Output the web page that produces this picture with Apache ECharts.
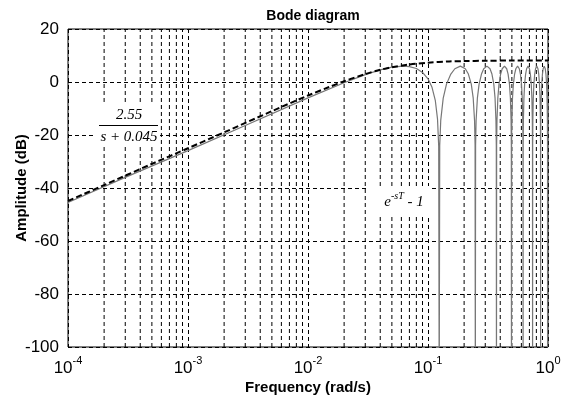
<!DOCTYPE html>
<html>
<head>
<meta charset="utf-8">
<script src="https://cdn.jsdelivr.net/npm/echarts@6/dist/echarts.min.js"></script>
<style>
  html, body { margin: 0; padding: 0; background: #fff; }
  #chart { width: 570px; height: 400px; }
</style>
</head>
<body>
<div id="chart"></div>
<script>
// 2.55/(s+0.045) curve, [rad/s, dB]
var approxCurve = [
  [1e-4, -44.9], [2e-4, -38.9], [5e-4, -30.9], [1e-3, -25.0], [2e-3, -19.0],
  [5e-3, -11.0], [1e-2, -5.1], [0.015, -1.9], [0.02, 0.3], [0.03, 3.0],
  [0.04, 4.6], [0.05, 5.55], [0.07, 6.6], [0.1, 7.3], [0.15, 7.75],
  [0.2, 7.9], [0.3, 8.0], [0.5, 8.1], [1, 8.1]
]

// e^-sT - 1 curve with its notches (notch bottoms are off the chart)
var delayCurve = [
  [1e-4, -45.5], [3e-4, -36.0], [1e-3, -25.9], [3e-3, -16.4], [1e-2, -6.0],
  [0.02, -0.3], [0.03, 2.8], [0.04, 4.6], [0.05, 5.6], [0.062, 6.0],
  [0.07, 5.8], [0.08, 5.1], [0.09, 3.6], [0.1, 1.2], [0.108, -2.0],
  [0.115, -6.9], [0.12, -13.9], [0.1228, -24.3], [0.124, -120],
  [0.1252, -24], [0.1277, -14.5], [0.1339, -6.1], [0.1426, -0.8], [0.155, 3.0], [0.1674, 5.0],
  [0.186, 6.0], [0.2046, 5.0], [0.217, 3.0], [0.2294, -0.8], [0.2381, -6.1], [0.2443, -14.5], [0.2468, -24], [0.248, -120],
  [0.2492, -24], [0.2517, -14.5], [0.2579, -6.1], [0.2666, -0.8], [0.279, 3.0], [0.2914, 5.0],
  [0.31, 6.0], [0.3286, 5.0], [0.341, 3.0], [0.3534, -0.8], [0.3621, -6.1], [0.3683, -14.5], [0.3708, -24], [0.372, -120],
  [0.3732, -24], [0.3757, -14.5], [0.3819, -6.1], [0.3906, -0.8], [0.403, 3.0], [0.4154, 5.0],
  [0.434, 6.0], [0.4526, 5.0], [0.465, 3.0], [0.4774, -0.8], [0.4861, -6.1], [0.4923, -14.5], [0.4948, -24], [0.496, -120],
  [0.4972, -24], [0.4997, -14.5], [0.5059, -6.1], [0.5146, -0.8], [0.527, 3.0], [0.5394, 5.0],
  [0.558, 6.0], [0.5766, 5.0], [0.589, 3.0], [0.6014, -0.8], [0.6101, -6.1], [0.6163, -14.5], [0.6188, -24], [0.62, -120],
  [0.6212, -24], [0.6237, -14.5], [0.6299, -6.1], [0.6386, -0.8], [0.651, 3.0], [0.6634, 5.0],
  [0.682, 6.0], [0.7006, 5.0], [0.713, 3.0], [0.7254, -0.8], [0.7341, -6.1], [0.7403, -14.5], [0.7428, -24], [0.744, -120],
  [0.7452, -24], [0.7477, -14.5], [0.7539, -6.1], [0.7626, -0.8], [0.775, 3.0], [0.7874, 5.0],
  [0.806, 6.0], [0.8246, 5.0], [0.837, 3.0], [0.8494, -0.8], [0.8581, -6.1], [0.8643, -14.5], [0.8668, -24], [0.868, -120],
  [0.8692, -24], [0.8717, -14.5], [0.8779, -6.1], [0.8866, -0.8], [0.899, 3.0], [0.9114, 5.0],
  [0.93, 6.0], [0.9486, 5.0], [0.961, 3.0], [0.9734, -0.8], [0.9821, -6.1], [0.9883, -14.5], [0.9908, -24], [0.992, -120],
  [0.9932, -24], [0.9957, -14.5], [1, -7.9]
]

// minor vertical grid lines (2..9 in each decade)
var minorTicks = [
  2e-4, 3e-4, 4e-4, 5e-4, 6e-4, 7e-4, 8e-4, 9e-4,
  2e-3, 3e-3, 4e-3, 5e-3, 6e-3, 7e-3, 8e-3, 9e-3,
  0.02, 0.03, 0.04, 0.05, 0.06, 0.07, 0.08, 0.09,
  0.2, 0.3, 0.4, 0.5, 0.6, 0.7, 0.8, 0.9
]

var yMin = -100
var yMax = 20
var yStep = 20

var font = 'Liberation Sans, Arial, sans-serif'
var serif = 'Liberation Serif, Times New Roman, serif'
var gridDash = { color: '#000', width: 1, type: [4, 3] }

// 每条次网格线用一条两点的折线画
var minorSeries = minorTicks.map(function (t) {
  return {
    type: 'line',
    data: [[t, yMin], [t, yMax]],
    showSymbol: false,
    silent: true,
    z: 1,
    lineStyle: gridDash
  }
})

var myChart = echarts.init(document.getElementById('chart'))
myChart.setOption({
  animation: false,
  title: {
    text: 'Bode diagram',
    left: 308,
    textAlign: 'center',
    top: 4,
    textStyle: { fontFamily: font, fontSize: 14, fontWeight: 'bold', color: '#000' }
  },
  grid: {
    left: 68, right: 22, top: 29, bottom: 53,
    outerBoundsMode: 'none',
    containLabel: false,
    show: true, borderColor: '#000', borderWidth: 1
  },
  xAxis: {
    type: 'log',
    logBase: 10,
    min: 1e-4,
    max: 1,
    name: 'Frequency (rad/s)',
    nameLocation: 'middle',
    nameGap: 33,
    nameMoveOverlap: false,
    nameTextStyle: { fontFamily: font, fontSize: 15, fontWeight: 'bold', color: '#000' },
    axisLine: { show: false },
    axisTick: { show: false },
    splitLine: { show: true, lineStyle: gridDash },
    axisLabel: {
      margin: 8,
      formatter: function (v) {
        return '{b|10}{s|' + Math.round(Math.log10(v)) + '}'
      },
      rich: {
        b: { fontFamily: font, fontSize: 17, color: '#000', lineHeight: 20, padding: [6, 0, 0, 0] },
        s: { fontFamily: font, fontSize: 11, color: '#000', lineHeight: 20, verticalAlign: 'top' }
      }
    }
  },
  yAxis: {
    type: 'value',
    min: yMin,
    max: yMax,
    interval: yStep,
    name: 'Amplitude (dB)',
    nameLocation: 'middle',
    nameGap: 39,
    nameMoveOverlap: false,
    nameTextStyle: { fontFamily: font, fontSize: 15, fontWeight: 'bold', color: '#000' },
    axisLine: { show: false },
    axisTick: { show: false },
    splitLine: { show: true, lineStyle: gridDash },
    axisLabel: { fontFamily: font, fontSize: 17, color: '#000', margin: 9 }
  },
  series: minorSeries.concat([
    {
      name: 'e^-sT - 1',
      type: 'line',
      data: delayCurve,
      showSymbol: false,
      clip: true,
      z: 3,
      lineStyle: { color: '#777', width: 1.2 }
    },
    {
      name: '2.55/(s+0.045)',
      type: 'line',
      data: approxCurve,
      showSymbol: false,
      smooth: 0.3,
      clip: true,
      z: 4,
      lineStyle: { color: '#000', width: 2, type: [6, 3] }
    }
  ]),
  graphic: [
    // 公式标注，后面垫白底
    {
      type: 'rect', z: 10,
      shape: { x: 96, y: 103, width: 64, height: 41 },
      style: { fill: '#fff' }
    },
    {
      type: 'text', z: 11,
      style: { x: 129, y: 115, text: '2.55', textAlign: 'center', textVerticalAlign: 'middle',
        fontFamily: serif, fontStyle: 'italic', fontSize: 15, fill: '#000' }
    },
    {
      type: 'line', z: 11, shape: { x1: 99, y1: 125.5, x2: 158, y2: 125.5 },
      style: { stroke: '#000', lineWidth: 1 }
    },
    {
      type: 'text', z: 11,
      style: { x: 129, y: 137, text: 's + 0.045', textAlign: 'center', textVerticalAlign: 'middle',
        fontFamily: serif, fontStyle: 'italic', fontSize: 15, fill: '#000' }
    },
    {
      type: 'rect', z: 10,
      shape: { x: 366, y: 186, width: 66, height: 30 },
      style: { fill: '#fff' }
    },
    {
      type: 'text', z: 11,
      style: {
        x: 404, y: 200, textAlign: 'center', textVerticalAlign: 'middle',
        text: '{e|e}{s|-sT}{e| - 1}',
        rich: {
          e: { fontFamily: serif, fontStyle: 'italic', fontSize: 15, fill: '#000', lineHeight: 18, padding: [5, 0, 0, 0] },
          s: { fontFamily: serif, fontStyle: 'italic', fontSize: 10, fill: '#000', lineHeight: 18, verticalAlign: 'top' }
        }
      }
    }
  ]
})
</script>
</body>
</html>
